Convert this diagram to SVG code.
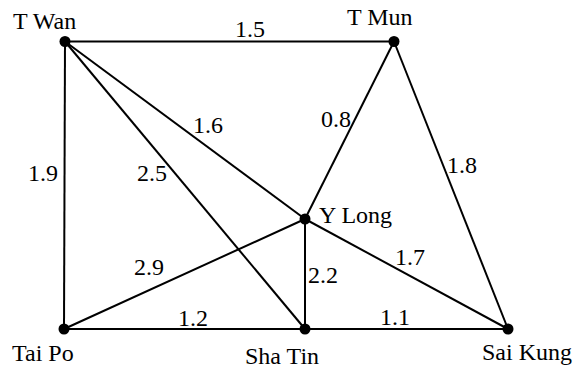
<svg xmlns="http://www.w3.org/2000/svg" width="581" height="372" viewBox="0 0 581 372">
<style>
text{font-family:"Liberation Serif","DejaVu Serif",serif;font-size:24px;fill:#000}
.e line{stroke:#000;stroke-width:2}
.n{fill:#000}
</style>
<rect width="581" height="372" fill="#fff"/>
<g id="edges" class="e">
<line x1="65" y1="41.5" x2="394" y2="41.5"/>
<line x1="65" y1="41.5" x2="64" y2="329"/>
<line x1="65" y1="41.5" x2="305" y2="329"/>
<line x1="65" y1="41.5" x2="305" y2="219"/>
<line x1="394" y1="41.5" x2="305" y2="219"/>
<line x1="394" y1="41.5" x2="508" y2="329"/>
<line x1="64" y1="329" x2="305" y2="219"/>
<line x1="64" y1="329" x2="305" y2="329"/>
<line x1="305" y1="219" x2="305" y2="329"/>
<line x1="305" y1="219" x2="508" y2="329"/>
<line x1="305" y1="329" x2="508" y2="329"/>
<text x="235" y="37">1.5</text>
<text x="193" y="133">1.6</text>
<text x="28" y="181">1.9</text>
<text x="137" y="181">2.5</text>
<text x="321" y="127">0.8</text>
<text x="447" y="173">1.8</text>
<text x="134" y="275">2.9</text>
<text x="178" y="326">1.2</text>
<text x="395" y="265">1.7</text>
<text x="308" y="283">2.2</text>
<text x="380" y="325">1.1</text>
</g>
<g id="twan"><circle class="n" cx="65" cy="41.5" r="5.5"/><text x="13" y="28.5">T Wan</text></g>
<g id="tmun"><circle class="n" cx="394" cy="41.5" r="5.5"/><text x="347" y="25">T Mun</text></g>
<g id="ylong"><circle class="n" cx="305" cy="219" r="5.5"/><text x="319" y="223">Y Long</text></g>
<g id="taipo"><circle class="n" cx="64" cy="329" r="5.5"/><text x="12" y="361">Tai Po</text></g>
<g id="shatin"><circle class="n" cx="305" cy="329" r="5.5"/><text x="245" y="364">Sha Tin</text></g>
<g id="saikung"><circle class="n" cx="508" cy="329" r="5.5"/><text x="482" y="360">Sai Kung</text></g>
</svg>
